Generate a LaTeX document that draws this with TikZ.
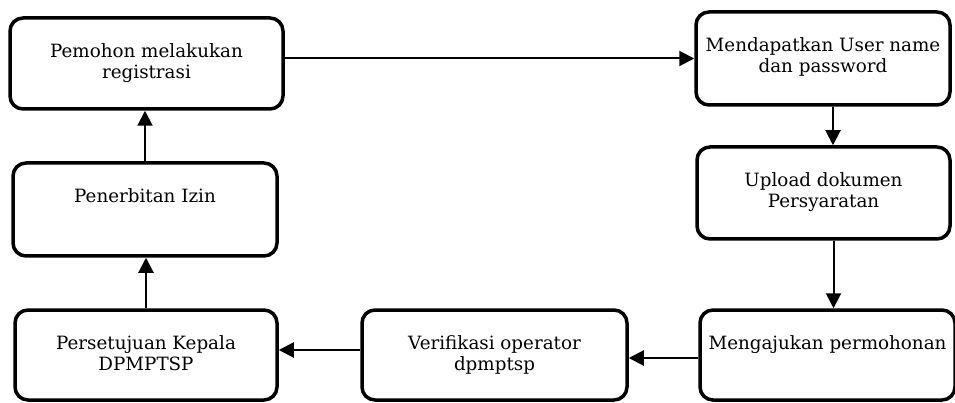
\documentclass[tikz,border=0pt]{standalone}
\usepackage{fontspec}
\setmainfont{DejaVu Serif}
\usetikzlibrary{arrows.meta,positioning}
\tikzset{
  box/.style={draw=black, line width=3.5pt, rounded corners=13pt, fill=white, inner sep=0pt},
  txt/.style={anchor=north, align=center, inner sep=0pt, font=\fontsize{18.3}{21.5}\selectfont},
  arr/.style={line width=2pt, -{Triangle[length=15pt,width=15pt]}}
}
\newcommand{\mybox}[6]{%
  \node[box, minimum width=#4-#2, minimum height=#5-#3] (#1) at ({(#2+#4)/2},{(#3+#5)/2}) {};
  \node[txt] (#1t) at ([yshift=-27]#1.north) {#6};
}
\begin{document}
\begin{tikzpicture}[x=1pt,y=-1pt]
\useasboundingbox (0,0) rectangle (955,403);
\mybox{b1}{10}{18}{283}{109}{Pemohon melakukan\\registrasi}
\mybox{b2}{696}{12}{950}{105}{Mendapatkan User name\\dan password}
\mybox{b3}{697}{147}{950}{239}{Upload dokumen\\Persyaratan}
\mybox{b4}{700}{310}{955}{400}{Mengajukan permohonan}
\mybox{b5}{362}{310}{627}{400}{Verifikasi operator\\dpmptsp}
\mybox{b6}{15}{310}{277}{400}{Persetujuan Kepala\\DPMPTSP}
\mybox{b7}{13}{163}{277}{256}{Penerbitan Izin}
\draw[arr] (b1.east |- b2.west) -- (b2.west);
\draw[arr] ([xshift=10]b2.south) -- ([xshift=10]b2.south |- b3.north);
\draw[arr] ([xshift=10]b3.south) -- ([xshift=10]b3.south |- b4.north);
\draw[arr] ([yshift=-3]b4.west) -- ([yshift=-3]b4.west -| b5.east);
\draw[arr] ([yshift=5]b5.west) -- ([yshift=5]b5.west -| b6.east);
\draw[arr] (b6.north) -- (b6.north |- b7.south);
\draw[arr] (b7.north) -- (b7.north |- b1.south);
\end{tikzpicture}
\end{document}
